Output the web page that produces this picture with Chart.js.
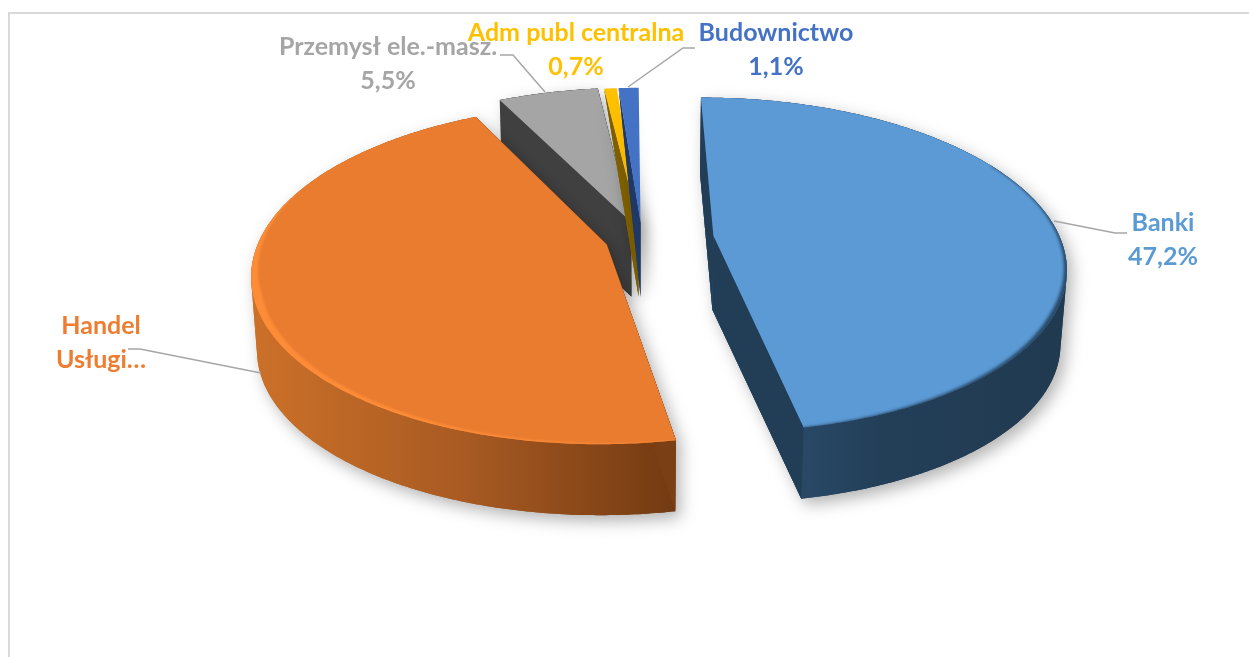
<!DOCTYPE html>
<html lang="pl">
<head>
<meta charset="utf-8">
<title>Udział sektorów</title>
<script src="https://cdn.jsdelivr.net/npm/chart.js@4"></script>
<style>
  html, body { margin: 0; height: 100%; overflow: hidden; background: #fff; }
  #frame { position: absolute; left: 8px; top: 12px; right: -10px; bottom: -10px; border: 2px solid #d9d9d9; }
  #pie { position: absolute; left: 0; top: 0; }
</style>
</head>
<body>
<div id="frame"></div>
<canvas id="pie" width="1249" height="657"></canvas>
<script>
// dane
const categories = ['Banki', 'Handel Usługi…', 'Przemysł ele.-masz.', 'Adm publ centralna', 'Budownictwo'];
const values = [47.2, 45.5, 5.5, 0.7, 1.1];
const labelLines = [
  ['Banki', '47,2%'],
  ['Handel', 'Usługi…'],
  ['Przemysł ele.-masz.', '5,5%'],
  ['Adm publ centralna', '0,7%'],
  ['Budownictwo', '1,1%']
];

const colors = ['#5b9bd5', '#ed7d31', '#a5a5a5', '#ffc000', '#4472c4'];
const faceColors = ['#5b9ad5', '#ea7c2f', '#a5a5a5', '#ffc000', '#4472c4'];
const cutColors = ['#223e57', '#7a3f14', '#404040', '#7f6000', '#203864'];
const wallColors = [
  ['#2f5578', '#233f58', '#203a50'],
  ['#cb7029', '#a85a22', '#733a12'],
  ['#404040', '#404040', '#404040'],
  ['#7f6000', '#7f6000', '#7f6000'],
  ['#203864', '#203864', '#203864']
];
const explode = [72, 37, 38, 36, 36];

// tylne plastry najpierw, zeby przednie je zaslonily
const drawOrder = [2, 3, 4, 0, 1];
// waskie plastry nie maja widocznej sciany przy brzegu
const thinSlice = [false, false, false, true, true];

const tilt = 0.47;
const persp = 0.1725;
const depth = 74;
const shrink = 0.015;
const wallLevels = 37;

// krawedz plastra: katy w stopniach od gory, peak = gdzie jest najszersza (0-1)
const rims = [
  { index: 0, from: 62, to: 171, color: 'rgba(30,55,80,0.8)', width: 4, peak: 0.5, blur: 1.6 },
  { index: 1, from: 168, to: 290, color: '#fd8c38', width: 8, peak: 0.7, blur: 1 }
];

const labelPos = [
  { x: 1163, y: 223, line: [[1054, 221], [1115, 233], [1127, 233]] },
  { x: 101, y: 326, line: [[261, 373], [140, 349], [128, 349]] },
  { x: 388, y: 47, line: [[545, 92], [513, 55], [500, 55]] },
  { x: 576, y: 33, line: null },
  { x: 776, y: 33, line: [[628, 87], [683, 48], [695, 48]] }
];

function project(arc, off, angle, radius, z) {
  const mid = (arc.startAngle + arc.endAngle) / 2;
  const px = radius * Math.cos(angle) + off * Math.cos(mid);
  const py = radius * Math.sin(angle) + off * Math.sin(mid);
  const f = 1 / (1 - persp * py / arc.outerRadius) * (1 - shrink * z);
  return { x: arc.x + px * f, y: arc.y + py * tilt * f + z * depth };
}

function rimPoints(arc, off, a0, a1, radius, z) {
  const pts = [];
  const steps = Math.max(2, Math.ceil((a1 - a0) / 0.01));
  for (let i = 0; i <= steps; i++) {
    pts.push(project(arc, off, a0 + (a1 - a0) * i / steps, radius, z));
  }
  return pts;
}

function addPolygon(ctx, pts) {
  pts.forEach((p, i) => i ? ctx.lineTo(p.x, p.y) : ctx.moveTo(p.x, p.y));
  ctx.closePath();
}

function tracePath(ctx, pts) {
  ctx.beginPath();
  addPolygon(ctx, pts);
}

// cala bryla jako suma warstw, jedna sciezka = jeden cien
function traceSolid(ctx, arc, off) {
  ctx.beginPath();
  for (let k = 0; k <= wallLevels; k++) {
    const z = k / wallLevels;
    addPolygon(ctx, [project(arc, off, arc.startAngle, 0, z)]
      .concat(rimPoints(arc, off, arc.startAngle, arc.endAngle, arc.outerRadius, z)));
  }
}

function drawBody(ctx, arc, i, withShadow) {
  const off = explode[i];
  const R = arc.outerRadius;
  const a0 = arc.startAngle, a1 = arc.endAngle;
  const rimTop = rimPoints(arc, off, a0, a1, R, 0);
  const rimBottom = rimPoints(arc, off, a0, a1, R, 1);
  const apexTop = project(arc, off, a0, 0, 0);
  const apexBottom = project(arc, off, a0, 0, 1);

  ctx.save();
  if (withShadow) {
    ctx.shadowColor = 'rgba(0,0,0,0.3)';
    ctx.shadowBlur = 16;
    ctx.shadowOffsetX = 5;
    ctx.shadowOffsetY = 6;
  }
  if (thinSlice[i]) {
    ctx.fillStyle = cutColors[i];
    tracePath(ctx, [rimTop[0], apexTop, apexBottom]);
    ctx.fill();
  } else {
    const xs = rimBottom.map(p => p.x);
    const grad = ctx.createLinearGradient(Math.min(...xs), 0, Math.max(...xs), 0);
    wallColors[i].forEach((c, k) => grad.addColorStop(k / 2, c));
    ctx.fillStyle = grad;
    traceSolid(ctx, arc, off);
    ctx.fill();
    if (!withShadow) {
      ctx.fillStyle = cutColors[i];
      tracePath(ctx, [apexTop, rimTop[0], rimBottom[0], apexBottom]);
      ctx.fill();
      tracePath(ctx, [apexTop, rimTop[rimTop.length - 1], rimBottom[rimBottom.length - 1], apexBottom]);
      ctx.fill();
    }
  }
  ctx.restore();
}

function drawTop(ctx, arc, i) {
  const off = explode[i];
  const R = arc.outerRadius;
  const top = [project(arc, off, arc.startAngle, 0, 0)].concat(rimPoints(arc, off, arc.startAngle, arc.endAngle, R, 0));
  ctx.fillStyle = arc.options.backgroundColor;
  tracePath(ctx, top);
  ctx.fill();

  rims.filter(r => r.index === i).forEach(r => {
    const a0 = (r.from - 90) * Math.PI / 180;
    const a1 = (r.to - 90) * Math.PI / 180;
    const outerPts = rimPoints(arc, off, a0, a1, R + 4, 0);
    // pas zweza sie ku koncom
    const innerPts = outerPts.map((p, k) => {
      const t = k / (outerPts.length - 1);
      const w = r.width * Math.min(1, t < r.peak ? t / r.peak : (1 - t) / (1 - r.peak));
      return project(arc, off, a0 + (a1 - a0) * t, R - w, 0);
    });
    ctx.save();
    tracePath(ctx, top);
    ctx.clip();
    ctx.filter = 'blur(' + r.blur + 'px)';
    ctx.fillStyle = r.color;
    tracePath(ctx, outerPts.concat(innerPts.reverse()));
    ctx.fill();
    ctx.restore();
  });
}

const pie3d = {
  id: 'pie3d',
  beforeDatasetDraw(chart, args) {
    const ctx = chart.ctx;
    const arcs = args.meta.data;
    drawOrder.forEach(i => {
      drawBody(ctx, arcs[i], i, true);
      drawBody(ctx, arcs[i], i, false);
      drawTop(ctx, arcs[i], i);
    });
    return false;
  },
  afterDraw(chart) {
    const ctx = chart.ctx;
    ctx.save();
    labelPos.forEach((pos, i) => {
      if (pos.line) {
        ctx.strokeStyle = '#a6a6a6';
        ctx.lineWidth = 1.5;
        ctx.beginPath();
        pos.line.forEach((p, k) => k ? ctx.lineTo(p[0], p[1]) : ctx.moveTo(p[0], p[1]));
        ctx.stroke();
      }
      ctx.fillStyle = colors[i];
      ctx.font = 'bold 25px Lato';
      ctx.textAlign = 'center';
      ctx.textBaseline = 'middle';
      labelLines[i].forEach((text, k) => ctx.fillText(text, pos.x, pos.y + k * 33.5));
    });
    ctx.restore();
  }
};

new Chart(document.getElementById('pie'), {
  type: 'pie',
  data: {
    labels: categories,
    datasets: [{
      data: values,
      backgroundColor: faceColors,
      offset: explode,
      borderWidth: 0
    }]
  },
  options: {
    responsive: false,
    animation: false,
    radius: 347,
    rotation: -0.4,
    layout: { padding: { left: 35, right: 0, top: 0, bottom: 179 } },
    plugins: { legend: { display: false }, tooltip: { enabled: false } }
  },
  plugins: [pie3d]
});
</script>
</body>
</html>
